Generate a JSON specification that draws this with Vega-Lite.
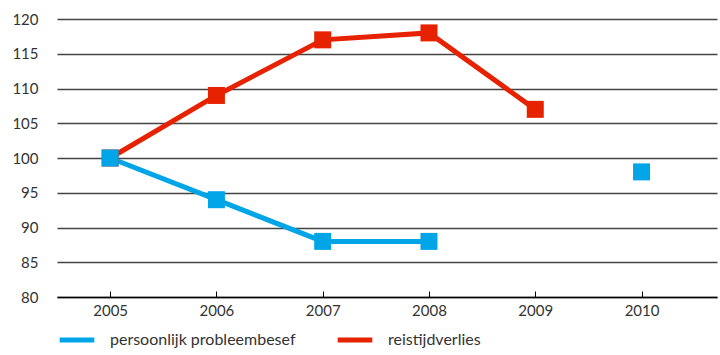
{
  "$schema": "https://vega.github.io/schema/vega-lite/v6.json",
  "width": 660,
  "height": 278,
  "autosize": {"type": "none"},
  "padding": {"left": 57, "top": 19, "right": 3, "bottom": 58},
  "background": "white",
  "config": {
    "view": {"stroke": null},
    "font": "Lato",
    "mark": {"invalid": "break-paths-show-domains"}
  },
  "data": {
    "values": [
      {"jaar": 2005, "reeks": "reistijdverlies", "waarde": 100},
      {"jaar": 2006, "reeks": "reistijdverlies", "waarde": 109},
      {"jaar": 2007, "reeks": "reistijdverlies", "waarde": 117},
      {"jaar": 2008, "reeks": "reistijdverlies", "waarde": 118},
      {"jaar": 2009, "reeks": "reistijdverlies", "waarde": 107},
      {"jaar": 2010, "reeks": "reistijdverlies", "waarde": null},
      {"jaar": 2005, "reeks": "persoonlijk probleembesef", "waarde": 100},
      {"jaar": 2006, "reeks": "persoonlijk probleembesef", "waarde": 94},
      {"jaar": 2007, "reeks": "persoonlijk probleembesef", "waarde": 88},
      {"jaar": 2008, "reeks": "persoonlijk probleembesef", "waarde": 88},
      {"jaar": 2009, "reeks": "persoonlijk probleembesef", "waarde": null},
      {"jaar": 2010, "reeks": "persoonlijk probleembesef", "waarde": 98}
    ]
  },
  "encoding": {
    "x": {
      "field": "jaar",
      "type": "quantitative",
      "scale": {"domain": [2004.5, 2010.71], "nice": false, "zero": false},
      "axis": {
        "title": null,
        "values": [2005, 2006, 2007, 2008, 2009, 2010],
        "format": "d",
        "grid": false,
        "domainColor": "#000000",
        "domainWidth": 1.5,
        "tickColor": "#000000",
        "tickSize": -6,
        "tickWidth": 1,
        "labelPadding": 12,
        "labelFontSize": 15,
        "labelColor": "#333333",
        "labelFont": "Lato"
      }
    },
    "y": {
      "field": "waarde",
      "type": "quantitative",
      "scale": {"domain": [80, 120], "nice": false, "zero": false},
      "axis": {
        "title": null,
        "values": [80, 85, 90, 95, 100, 105, 110, 115, 120],
        "grid": true,
        "gridColor": "#444444",
        "gridWidth": 1.5,
        "domain": false,
        "ticks": false,
        "labelPadding": 19,
        "labelFontSize": 15,
        "labelColor": "#333333",
        "labelFont": "Lato"
      }
    },
    "color": {
      "field": "reeks",
      "type": "nominal",
      "scale": {
        "domain": ["persoonlijk probleembesef", "reistijdverlies"],
        "range": ["#00A5E8", "#E62200"]
      },
      "legend": {
        "title": null,
        "orient": "none",
        "direction": "horizontal",
        "legendX": 0,
        "legendY": 301,
        "symbolType": "stroke",
        "symbolStrokeWidth": 5,
        "symbolSize": 1200,
        "labelFontSize": 16,
        "labelColor": "#333333",
        "labelFont": "Lato",
        "labelLimit": 400,
        "labelOffset": 13,
        "columnPadding": 31
      }
    }
  },
  "layer": [
    {
      "mark": {"type": "line", "strokeWidth": 5}
    },
    {
      "mark": {"type": "point", "shape": "square", "filled": true, "opacity": 1, "size": 289}
    }
  ]
}
